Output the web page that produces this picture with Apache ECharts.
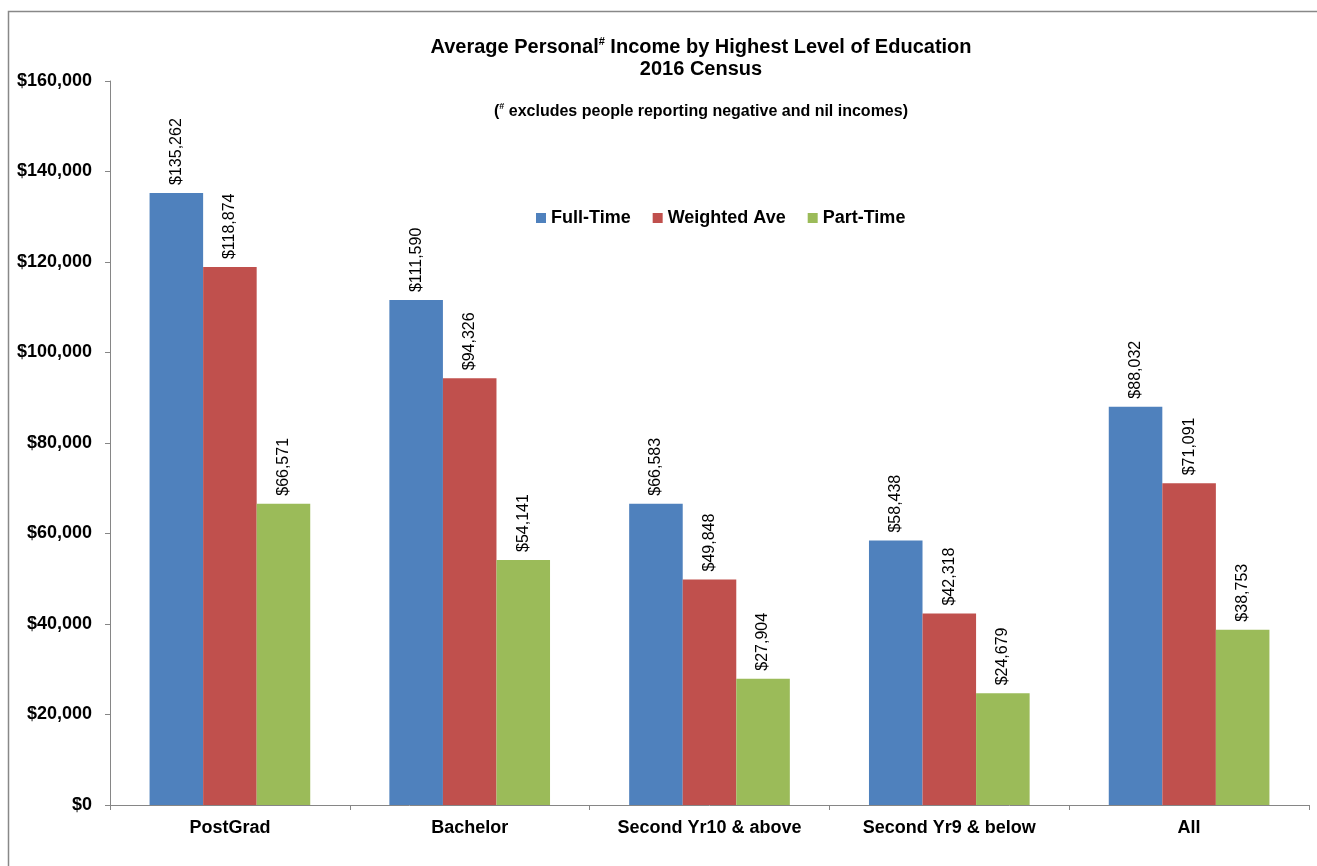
<!DOCTYPE html>
<html>
<head>
<meta charset="utf-8">
<script src="https://cdn.jsdelivr.net/npm/echarts@6/dist/echarts.min.js"></script>
<style>
  html, body { margin: 0; padding: 0; background: #fff; }
  #chart { width: 1317px; height: 866px; }
</style>
</head>
<body>
<div id="chart"></div>
<script>
// Education levels along the x axis
const categories = ['PostGrad', 'Bachelor', 'Second Yr10 & above', 'Second Yr9 & below', 'All'];

// Average personal income per level (AUD)
const fullTime = [135262, 111590, 66583, 58438, 88032];
const weightedAve = [118874, 94326, 49848, 42318, 71091];
const partTime = [66571, 54141, 27904, 24679, 38753];

// Y axis ticks
const yTicks = [0, 20000, 40000, 60000, 80000, 100000, 120000, 140000, 160000];

const FONT = '"Liberation Sans", Arial, sans-serif';
const money = v => '$' + Number(v).toLocaleString('en-US');

const chart = echarts.init(document.getElementById('chart'), null, { renderer: 'canvas' });

function barSeries(name, data, color) {
  return {
    name: name,
    type: 'bar',
    data: data,
    barGap: '0%',
    barCategoryGap: '33%',
    itemStyle: { color: color },
    label: {
      show: true,
      position: 'top',
      rotate: 90,
      align: 'left',
      verticalAlign: 'middle',
      distance: 8,
      formatter: p => money(p.value),
      fontFamily: FONT,
      fontSize: 16,
      color: '#000'
    }
  };
}

chart.setOption({
  animation: false,
  backgroundColor: '#fff',
  textStyle: { fontFamily: FONT },
  graphic: [{
    type: 'rect',
    shape: { x: 8.5, y: 11.5, width: 1400, height: 1000 },
    style: { fill: 'none', stroke: '#888', lineWidth: 1.5 },
    silent: true
  }],
  title: [{
    text: '{t|Average Personal}{s|#}{t| Income by Highest Level of Education}\n{t|2016 Census}',
    left: 696,
    top: 31,
    textAlign: 'center',
    textStyle: {
      rich: {
        t: { fontFamily: FONT, fontWeight: 'bold', fontSize: 20, color: '#000', lineHeight: 22, align: 'center' },
        s: { fontFamily: FONT, fontWeight: 'bold', fontSize: 11, color: '#000', verticalAlign: 'top', lineHeight: 22 }
      }
    }
  }, {
    text: '{t|(}{s|#}{t| excludes people reporting negative and nil incomes)}',
    left: 696,
    top: 97,
    textAlign: 'center',
    textStyle: {
      rich: {
        t: { fontFamily: FONT, fontWeight: 'bold', fontSize: 16, color: '#000', lineHeight: 20 },
        s: { fontFamily: FONT, fontWeight: 'bold', fontSize: 9, color: '#000', verticalAlign: 'top', lineHeight: 20 }
      }
    }
  }],
  legend: {
    data: ['Full-Time', 'Weighted Ave', 'Part-Time'],
    left: 531,
    top: 204,
    itemWidth: 10,
    itemHeight: 10,
    itemGap: 22,
    icon: 'rect',
    textStyle: { fontFamily: FONT, fontWeight: 'bold', fontSize: 18, color: '#000' }
  },
  grid: { left: 110, right: 8, top: 81, bottom: 61, containLabel: false },
  xAxis: {
    type: 'category',
    data: categories,
    axisLine: { lineStyle: { color: '#868686', width: 1 } },
    axisTick: { show: true, alignWithLabel: false, length: 5, lineStyle: { color: '#868686' } },
    axisLabel: { fontFamily: FONT, fontWeight: 'bold', fontSize: 18, color: '#000', margin: 14 }
  },
  yAxis: {
    type: 'value',
    min: yTicks[0],
    max: yTicks[yTicks.length - 1],
    interval: yTicks[1] - yTicks[0],
    splitLine: { show: false },
    axisLine: { show: true, lineStyle: { color: '#868686', width: 1 } },
    axisTick: { show: true, length: 5, lineStyle: { color: '#868686' } },
    axisLabel: { fontFamily: FONT, fontWeight: 'bold', fontSize: 18, color: '#000', margin: 18, formatter: v => money(v) }
  },
  series: [
    barSeries('Full-Time', fullTime, '#4F81BD'),
    barSeries('Weighted Ave', weightedAve, '#C0504D'),
    barSeries('Part-Time', partTime, '#9BBB59')
  ]
});
</script>
</body>
</html>
